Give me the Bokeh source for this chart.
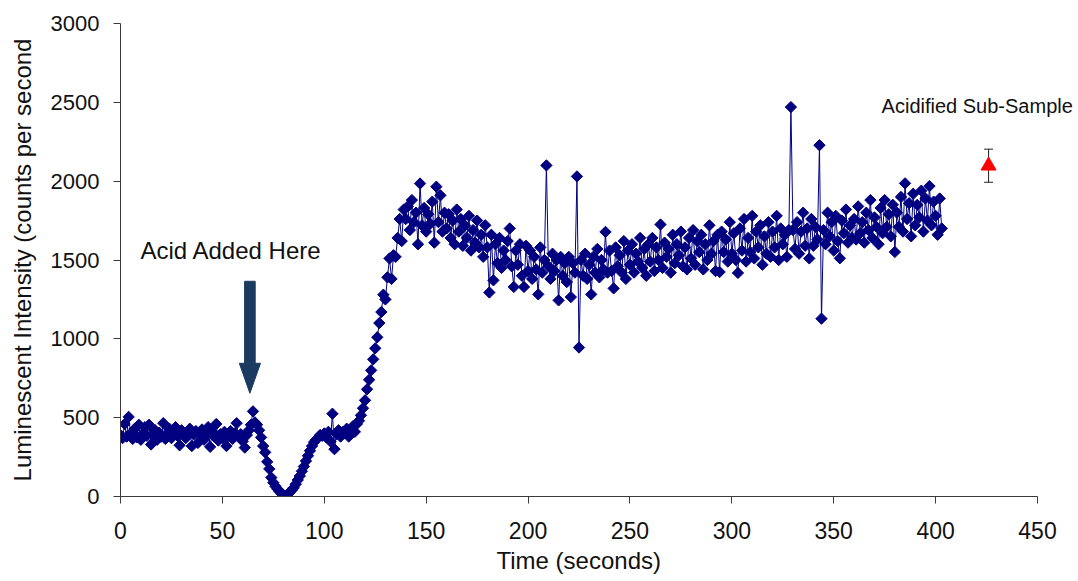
from math import pi

from bokeh.embed import file_html
from bokeh.models import ColumnDataSource, FixedTicker, Label, Range1d, TeeHead, Title, Whisker
from bokeh.plotting import figure
from bokeh.resources import INLINE

# ---- data -------------------------------------------------------------
time_s = list(range(404))

intensity = [
    # 0-19 s
    390, 370, 460, 380, 505, 400, 365, 430, 375, 455, 360, 400, 440, 385, 455, 330, 395, 420, 360, 405,
    # 20-39 s
    380, 465, 365, 400, 430, 370, 410, 440, 385, 325, 420, 395, 370, 405, 430, 320, 395, 415, 340, 400,
    # 40-59 s
    425, 360, 390, 440, 315, 410, 380, 460, 355, 395, 370, 410, 320, 385, 415, 365, 400, 465, 380, 395,
    # 60-79 s
    350, 310, 390, 420, 455, 540, 470, 455, 420, 375, 320, 280, 220, 175, 120, 88, 65, 48, 32, 18,
    # 80-99 s
    10, 5, 12, 25, 40, 55, 78, 105, 130, 160, 190, 225, 258, 290, 320, 345, 360, 375, 390, 385,
    # 100-119 s
    400, 375, 410, 350, 525, 300, 395, 420, 380, 410, 400, 430, 380, 420, 445, 410, 460, 480, 515, 560,
    # 120-139 s
    610, 680, 740, 800, 870, 940, 1010, 1100, 1170, 1280, 1250, 1390, 1510, 1380, 1530, 1520, 1640, 1760, 1620, 1820,
    # 140-159 s
    1760, 1840, 1690, 1880, 1740, 1800, 1600, 1985, 1720, 1830, 1680, 1790, 1730, 1870, 1610, 1965, 1740, 1910, 1680, 1800,
    # 160-179 s
    1700, 1790, 1640, 1750, 1600, 1820, 1680, 1760, 1590, 1720, 1640, 1780, 1560, 1690, 1610, 1750, 1580, 1660, 1520, 1720,
    # 180-199 s
    1580, 1294, 1660, 1371, 1600, 1480, 1640, 1450, 1560, 1500, 1620, 1700, 1460, 1329, 1560, 1470, 1600, 1400, 1329, 1590,
    # 200-219 s
    1430, 1560, 1380, 1520, 1440, 1282, 1580, 1420, 1500, 2100, 1460, 1380, 1540, 1430, 1500, 1244, 1520, 1400, 1480, 1360,
    # 220-239 s
    1520, 1265, 1480, 1420, 2030, 945, 1500, 1400, 1540, 1380, 1470, 1282, 1520, 1420, 1570, 1390, 1500, 1440, 1678, 1420,
    # 240-259 s
    1560, 1430, 1320, 1580, 1460, 1530, 1420, 1620, 1380, 1560, 1470, 1600, 1420, 1540, 1490, 1640, 1450, 1570, 1400, 1600,
    # 260-279 s
    1490, 1640, 1430, 1580, 1500, 1725, 1450, 1610, 1520, 1570, 1420, 1660, 1480, 1600, 1530, 1680, 1460, 1580, 1440, 1640,
    # 280-299 s
    1510, 1690, 1470, 1620, 1550, 1660, 1440, 1600, 1500, 1720, 1540, 1620, 1430, 1660, 1424, 1680, 1550, 1630, 1490, 1740,
    # 300-319 s
    1540, 1670, 1500, 1418, 1700, 1560, 1760, 1490, 1640, 1550, 1780, 1510, 1680, 1580, 1720, 1470, 1650, 1540, 1740, 1520,
    # 320-339 s
    1680, 1580, 1780, 1500, 1700, 1600, 1660, 1520, 1690, 2470, 1690, 1570, 1740, 1540, 1680, 1800, 1590, 1700, 1510, 1760,
    # 340-359 s
    1590, 1710, 1630, 2228, 1128, 1690, 1600, 1800, 1650, 1740, 1560, 1780, 1620, 1511, 1750, 1670, 1820, 1610, 1720, 1640,
    # 360-379 s
    1760, 1630, 1840, 1670, 1740, 1610, 1800, 1690, 1880, 1640, 1770, 1710, 1600, 1830, 1670, 1880, 1710, 1790, 1650, 1850,
    # 380-399 s
    1551, 1800, 1710, 1900, 1680, 1986, 1760, 1860, 1650, 1920, 1720, 1850, 1770, 1940, 1680, 1890, 1750, 1969, 1720, 1870,
    # 400-403 s
    1780, 1660, 1890, 1700,
]

# acidified sub-sample: mean and error
sub_time = [426]
sub_mean = [2098]
sub_err = [105]

x_ticks = [0, 50, 100, 150, 200, 250, 300, 350, 400, 450]
y_ticks = [0, 500, 1000, 1500, 2000, 2500, 3000]

# arrow marking the acid addition (data units)
ARROW_X = 63.5
ARROW_TIP = 655
ARROW_HEAD_BASE = 845
ARROW_TOP = 1365
ARROW_SHAFT_HALF = 2.6
ARROW_HEAD_HALF = 5.2

FONT = "Liberation Sans"
NAVY = "#000080"
ARROW_COLOR = "#1B3A60"
AXIS_COLOR = "#3a3a3a"

# frame spans the full width to the right so the side note is not clipped;
# the axis itself stops at 450 s
PLOT_W, FRAME_LEFT, AXIS_END_PX = 1078, 120, 1037
X_MAX = 450
X_END = X_MAX * (PLOT_W - FRAME_LEFT) / (AXIS_END_PX - FRAME_LEFT)

# ---- figure -------------------------------------------------------------
p = figure(
    width=PLOT_W,
    height=581,
    output_backend="svg",
    toolbar_location=None,
    x_range=Range1d(0, X_END),
    y_range=Range1d(0, 3000),
    min_border_left=FRAME_LEFT,
    min_border_right=0,
    min_border_top=23,
    min_border_bottom=85,
    background_fill_color="white",
    border_fill_color="white",
)
p.outline_line_color = None
p.xgrid.grid_line_color = None
p.ygrid.grid_line_color = None

src = ColumnDataSource(dict(t=time_s, v=intensity))
p.line("t", "v", source=src, line_color=NAVY, line_width=1)
p.scatter("t", "v", source=src, marker="square", angle=pi / 4, size=8,
          fill_color=NAVY, line_color=NAVY, line_width=1)

# sub-sample error bar and marker
err_src = ColumnDataSource(dict(
    t=sub_time,
    m=sub_mean,
    up=[m + e for m, e in zip(sub_mean, sub_err)],
    lo=[m - e for m, e in zip(sub_mean, sub_err)],
))
whisk = Whisker(source=err_src, base="t", upper="up", lower="lo",
                line_color="#222222", line_width=1,
                upper_head=TeeHead(size=9, line_color="#222222", line_width=1),
                lower_head=TeeHead(size=9, line_color="#222222", line_width=1),
                level="underlay")
p.add_layout(whisk)
p.scatter("t", "m", source=err_src, marker="triangle", size=15,
          fill_color="#FF0000", line_color="#FF0000")

# arrow
p.patch(
    [ARROW_X - ARROW_SHAFT_HALF, ARROW_X + ARROW_SHAFT_HALF, ARROW_X + ARROW_SHAFT_HALF,
     ARROW_X + ARROW_HEAD_HALF, ARROW_X, ARROW_X - ARROW_HEAD_HALF, ARROW_X - ARROW_SHAFT_HALF],
    [ARROW_TOP, ARROW_TOP, ARROW_HEAD_BASE, ARROW_HEAD_BASE, ARROW_TIP, ARROW_HEAD_BASE, ARROW_HEAD_BASE],
    fill_color=ARROW_COLOR, line_color=ARROW_COLOR, line_width=1,
)

p.add_layout(Label(x=9.8, y=1562, text="Acid Added Here", text_font=FONT,
                   text_font_size="24px", text_color="#111111", text_baseline="middle"))
p.add_layout(Label(x=373.5, y=2474, text="Acidified Sub-Sample", text_font=FONT,
                   text_font_size="20px", text_color="#111111", text_baseline="middle"))

# axes
p.xaxis.ticker = FixedTicker(ticks=x_ticks)
p.yaxis.ticker = FixedTicker(ticks=y_ticks)
p.xaxis.bounds = (0, X_MAX)
p.yaxis.axis_label = "Luminescent Intensity (counts per second"

for ax in (p.xaxis, p.yaxis):
    ax.axis_line_color = AXIS_COLOR
    ax.major_tick_line_color = AXIS_COLOR
    ax.minor_tick_line_color = None
    ax.major_tick_in = 0
    ax.major_tick_out = 7
    ax.major_label_text_font = FONT
    ax.major_label_text_font_size = "22px"
    ax.major_label_text_color = "#111111"
    ax.axis_label_text_font = FONT
    ax.axis_label_text_font_size = "24px"
    ax.axis_label_text_font_style = "normal"
    ax.axis_label_text_color = "#111111"

p.xaxis.major_label_text_font_size = "23px"
p.xaxis.major_label_standoff = 18
p.yaxis.major_label_standoff = 14
p.yaxis.axis_label_standoff = 12

# x-axis title, centred under the 0-450 s axis
p.add_layout(Title(text="Time (seconds)", align="left", offset=376, standoff=6,
                   text_font=FONT, text_font_size="24px", text_font_style="normal",
                   text_color="#111111"), "below")

open("out.html", "w").write(file_html(p, INLINE))
